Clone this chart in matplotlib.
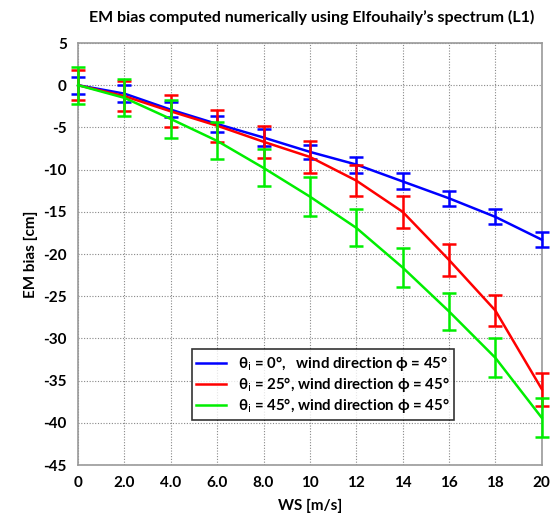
import numpy as np
import matplotlib
matplotlib.use('Agg')
import matplotlib.pyplot as plt

plt.rcParams['font.family'] = ['Lato', 'DejaVu Sans']
plt.rcParams['axes.unicode_minus'] = False

# wind speed, m/s
ws = [0, 2, 4, 6, 8, 10, 12, 14, 16, 18, 20]

# EM bias, cm
bias_0 = [0.0, -1.0, -2.9, -4.6, -6.2, -7.9, -9.4, -11.4, -13.4, -15.6, -18.3]
bias_25 = [0.0, -1.3, -3.1, -4.8, -6.7, -8.5, -11.3, -15.0, -20.7, -26.7, -36.0]
bias_45 = [0.0, -1.5, -4.0, -6.6, -9.8, -13.2, -16.9, -21.6, -26.8, -32.3, -39.4]

err_0 = [1.0, 1.0, 0.9, 0.95, 1.05, 0.85, 0.95, 0.95, 0.9, 0.9, 0.9]
err_25 = [1.8, 1.75, 1.9, 1.9, 1.9, 1.9, 1.8, 1.9, 1.9, 1.8, 1.95]
err_45 = [2.2, 2.2, 2.2, 2.2, 2.2, 2.3, 2.2, 2.3, 2.2, 2.3, 2.3]

x_labels = ['0', '2.0', '4.0', '6.0', '8.0', '10', '12', '14', '16', '18', '20']

fig = plt.figure(figsize=[5.5, 5.15], dpi=100, facecolor='w')
ax = fig.add_axes([0.142, 0.097, 0.843, 0.8195])

series = [
    (bias_0, err_0, '#0000ff', 'θ$_\\mathrm{i}$ = 0°,   wind direction ϕ = 45°'),
    (bias_25, err_25, '#ff0000', 'θ$_\\mathrm{i}$ = 25°, wind direction ϕ = 45°'),
    (bias_45, err_45, '#00ee00', 'θ$_\\mathrm{i}$ = 45°, wind direction ϕ = 45°'),
]
for y, e, c, lab in series:
    ax.plot(ws, y, color=c, linewidth=1.8, label=lab, zorder=3, clip_on=False)
    ax.errorbar(ws, y, yerr=e, fmt='none', ecolor=c, elinewidth=1.8,
                capsize=5, capthick=1.8, zorder=3, clip_on=False)

ax.set_xlim(0, 20)
ax.set_ylim(-45, 5)
ax.set_xticks(ws)
ax.set_xticklabels(x_labels)
ax.set_yticks(np.arange(-45, 6, 5))
ax.tick_params(length=0, labelsize=11, pad=8)
for t in ax.get_xticklabels() + ax.get_yticklabels():
    t.set_fontweight('bold')

ax.grid(True, linestyle=(0, (1, 1.5)), color='#888888', linewidth=0.8)
for s in ax.spines.values():
    s.set_color('#999999')
    s.set_linewidth(1.2)

ax.set_xlabel('WS [m/s]', fontsize=11, fontweight='bold', labelpad=6)
ax.set_ylabel('EM bias [cm]', fontsize=11, fontweight='bold', labelpad=4)
fig.suptitle('EM bias computed numerically using Elfouhaily\u2019s spectrum (L1)',
             fontsize=11.5, fontweight='bold', x=0.567, y=0.98)

leg = ax.legend(loc='lower left', bbox_to_anchor=(0.245, 0.107), fontsize=10.8,
                frameon=True, fancybox=False, borderpad=0.3, handlelength=2.0,
                labelspacing=0.15, handletextpad=0.8, borderaxespad=0)
leg.get_frame().set_edgecolor('black')
leg.get_frame().set_linewidth(1.2)
for t in leg.get_texts():
    t.set_fontweight('bold')

fig.savefig('out.png')
